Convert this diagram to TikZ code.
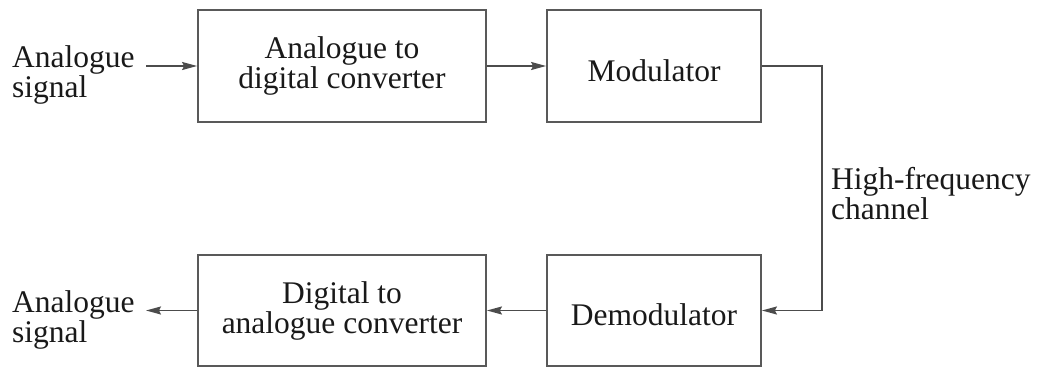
\documentclass[tikz,border=0pt]{standalone}
\usepackage{fontspec}
\setmainfont{Liberation Serif}
\usetikzlibrary{arrows.meta}
\begin{document}
\begin{tikzpicture}[x=1pt,y=-1pt,
  every node/.style={text=black!90, font=\fontsize{31.5}{30}\selectfont},
  blk/.style={draw=black!65, line width=1.8pt, inner sep=0pt, align=center,
    execute at begin node={\rule{0pt}{31pt}}},
  lbl/.style={align=left, inner sep=0pt},
  conn/.style={draw=black!70, line width=1.7pt},
  arr/.style={conn, -{Stealth[length=15pt,width=8pt,inset=2pt]}}]
\useasboundingbox (0,0) rectangle (1037,367);
\node[blk, minimum width=288, minimum height=112] (b1) at (342,66) {Analogue to\\digital converter};
\node[blk, minimum width=214, minimum height=112] (b2) at (654,66) {Modulator};
\node[blk, minimum width=288, minimum height=111] (b3) at (342,310.5) {Digital to\\analogue converter};
\node[blk, minimum width=214, minimum height=111] (b4) at (654,310.5) {Demodulator};
\node[lbl, anchor=base west] (l1) at (12,97) {Analogue\\signal};
\node[lbl, anchor=base west] (l2) at (12,342) {Analogue\\signal};
\node[lbl, anchor=base west] (l3) at (831,219) {High-frequency\\channel};
\coordinate (s1) at (146,66);
\coordinate (s2) at (146,310.5);
\coordinate (c1) at (822,66);
\coordinate (c2) at (822,310.5);
\draw[arr] (s1) -- (b1.west);
\draw[arr] (b1.east) -- (b2.west);
\draw[arr] (b2.east) -- (c1) -- (c2) -- (b4.east);
\draw[arr] (b4.west) -- (b3.east);
\draw[arr] (b3.west) -- (s2);
\end{tikzpicture}
\end{document}
